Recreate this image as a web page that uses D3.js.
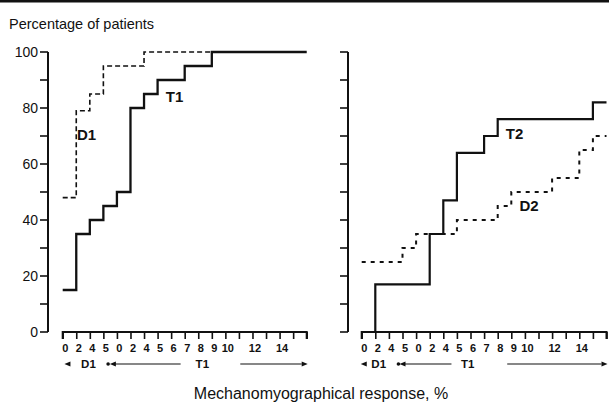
<!DOCTYPE html>
<html><head><meta charset="utf-8">
<script src="https://cdn.jsdelivr.net/npm/d3@7"></script>
<style>body{margin:0;background:#fff}svg{display:block}text{font-family:"Liberation Sans",Arial,sans-serif;fill:#111}</style>
</head><body><svg id="c" width="609" height="410"></svg>
<script>
// ---- data ----
const xTickIdx = d3.range(0, 19);
const xLabels = ["0","2","4","5","0","2","4","5","6","7","8","9","10","12","14"];
const xLabelIdx = [0,1,2,3,4,5,6,7,8,9,10,11,12,14,16];
const yTicks = [0,10,20,30,40,50,60,70,80,90,100];
const yLabels = [0,20,40,60,80,100];

const t1X = [0,1,2,3,4,5,6,7,9,11,18];
const t1Y = [15,35,40,45,50,80,85,90,95,100,100];
const d1X = [0,1,2,3,6,18];
const d1Y = [48,79,85,95,100,100];

const t2X = [1,1,5,6,7,9,10,17,18];
const t2Y = [0,17,35,47,64,70,76,82,82];
const d2X = [0,3,4,7,10,11,14,16,17,18];
const d2Y = [25,30,35,40,45,50,55,65,70,70];

const seriesLabels = [
  {panel:0, text:"D1", x:1.05, y:70.5},
  {panel:0, text:"T1", x:7.6, y:84},
  {panel:1, text:"T2", x:10.6, y:71},
  {panel:1, text:"D2", x:11.6, y:45}
];

const svg = d3.select("#c");
const y = d3.scaleLinear().domain([0,100]).range([332,52]);
const panels = [
  {x: d3.scaleLinear().domain([0,18]).range([62.7,306.7]), yAxisX:48, showY:true,
   arrow:{l:0.35, d1:1.9, dot:3.35, ah:3.7, lEnd:8.7, t1:10.3, rStart:13.1, rEnd:18}},
  {x: d3.scaleLinear().domain([0,18]).range([361.7,606.5]), yAxisX:348, showY:false,
   arrow:{l:0.15, d1:1.25, dot:2.7, ah:3.0, lEnd:6.6, t1:7.8, rStart:10.7, rEnd:18}}
];

// top rule
svg.append("rect").attr("x",0).attr("y",0).attr("width",609).attr("height",2.5).attr("fill","#111");
svg.append("text").attr("x",9).attr("y",29).attr("font-size",14.5).text("Percentage of patients");

panels.forEach((p,pi)=>{
  const g = svg.append("g");
  // y axis
  g.append("line").attr("x1",p.yAxisX).attr("x2",p.yAxisX).attr("y1",y(100)).attr("y2",y(0))
    .attr("stroke","#111").attr("stroke-width",2);
  yTicks.forEach(t=>{
    g.append("line").attr("x1",p.yAxisX-8).attr("x2",p.yAxisX).attr("y1",y(t)).attr("y2",y(t))
      .attr("stroke","#111").attr("stroke-width",1.6);
  });
  if(p.showY){
    yLabels.forEach(t=>{
      g.append("text").attr("x",p.yAxisX-10).attr("y",y(t)).attr("dy","0.36em")
        .attr("text-anchor","end").attr("font-size",14).text(t);
    });
  }
  // x axis
  const xa = d3.axisBottom(p.x).tickValues(xTickIdx).tickSize(7).tickFormat("");
  const ag = g.append("g").attr("transform",`translate(0,${y(0)})`).call(xa);
  ag.select(".domain").attr("stroke","#111").attr("stroke-width",2).attr("d",`M${p.x(0)},7V0H${p.x(18)}V7`);
  ag.selectAll(".tick line").attr("stroke","#111").attr("stroke-width",1.6);
  xLabels.forEach((l,i)=>{
    g.append("text").attr("x",p.x(xLabelIdx[i])+2.5).attr("y",352).attr("text-anchor","middle")
      .attr("font-size",11).attr("font-weight","bold").text(l);
  });
  // arrow row
  const a = p.arrow, ay = 364;
  const tri = (xp, dir)=>`M${xp},${ay}L${xp-dir*6},${ay-2.6}L${xp-dir*6},${ay+2.6}Z`;
  g.append("path").attr("d",tri(p.x(a.l)-3,-1)).attr("fill","#111");
  g.append("text").attr("x",p.x(a.d1)).attr("y",ay).attr("dy","0.35em").attr("text-anchor","middle")
    .attr("font-size",11.5).attr("font-weight","bold").text("D1");
  g.append("circle").attr("cx",p.x(a.dot)).attr("cy",ay).attr("r",1.8).attr("fill","#111");
  g.append("path").attr("d",tri(p.x(a.ah)-3,-1)).attr("fill","#111");
  g.append("line").attr("x1",p.x(a.ah)).attr("x2",p.x(a.lEnd)).attr("y1",ay).attr("y2",ay).attr("stroke","#111").attr("stroke-width",1.2);
  g.append("text").attr("x",p.x(a.t1)).attr("y",ay).attr("dy","0.35em").attr("text-anchor","middle")
    .attr("font-size",11.5).attr("font-weight","bold").text("T1");
  g.append("line").attr("x1",p.x(a.rStart)).attr("x2",p.x(a.rEnd)-5).attr("y1",ay).attr("y2",ay).attr("stroke","#111").attr("stroke-width",1.2);
  g.append("path").attr("d",tri(p.x(a.rEnd)+1,1)).attr("fill","#111");
});

// series
function drawStep(pi, xs, ys, dash, w){
  const p = panels[pi];
  const line = d3.line().x(d=>p.x(d[0])).y(d=>y(d[1])).curve(d3.curveStepAfter);
  svg.append("path").datum(xs.map((v,i)=>[v,ys[i]])).attr("d",line)
    .attr("fill","none").attr("stroke","#111").attr("stroke-width",w)
    .attr("stroke-dasharray",dash||null);
}
drawStep(0, d1X, d1Y, "5,3", 1.6);
drawStep(0, t1X, t1Y, null, 2.3);
drawStep(1, d2X, d2Y, "4,5", 2);
drawStep(1, t2X, t2Y, null, 2.2);

seriesLabels.forEach(s=>{
  svg.append("text").attr("x",panels[s.panel].x(s.x)).attr("y",y(s.y)).attr("dy","0.36em")
    .attr("font-size",15).attr("font-weight","bold").text(s.text);
});

svg.append("text").attr("x",321).attr("y",399).attr("text-anchor","middle").attr("font-size",16)
  .text("Mechanomyographical response, %");
</script></body></html>
